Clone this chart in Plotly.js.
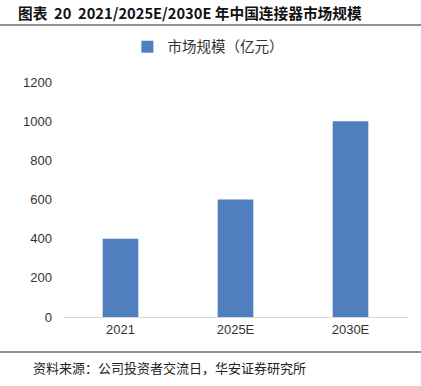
<!DOCTYPE html>
<html><head><meta charset="utf-8">
<script src="https://cdn.plot.ly/plotly-3.0.1.min.js"></script>
<style>html,body{margin:0;padding:0;background:#fff;}#chart{width:421px;height:386px;}</style>
</head><body><div id="chart"></div>
<script>
const categories = ["2021", "2025E", "2030E"];
const marketSize = [400, 600, 1000];
const seriesName = "市场规模（亿元）";
const yTicks = [0, 200, 400, 600, 800, 1000, 1200];
const chartTitle = "图表  20  2021/2025E/2030E 年中国连接器市场规模";
const sourceText = "资料来源：公司投资者交流日，华安证券研究所";

const trace = {
  type: "bar", x: categories, y: marketSize, name: seriesName,
  marker: {color: "#4f7fbe"}, showlegend: true
};
const layout = {
  width: 421, height: 386,
  margin: {l: 63, r: 13, t: 82, b: 69},
  paper_bgcolor: "#fff", plot_bgcolor: "#fff",
  font: {family: "Liberation Sans, Arial, sans-serif", color: "#333", size: 13},
  bargap: 0.69,
  xaxis: {type: "category", showline: true, linecolor: "#d9d9d9", linewidth: 1,
    ticks: "", showgrid: false, tickfont: {size: 13, color: "#333"}},
  yaxis: {range: [0, 1200], tickvals: yTicks, showgrid: false, showline: false,
    zeroline: false, ticks: "", ticklabelstandoff: 10, tickfont: {size: 13, color: "#333"}},
  showlegend: true,
  legend: {orientation: "h", x: 0.42, xanchor: "center", y: 1.15, yanchor: "middle",
    itemwidth: 30,
    font: {family: "Noto Sans CJK SC, sans-serif", size: 14.5, color: "#333"}},
  annotations: [
    {text: "<b>" + chartTitle + "</b>", xref: "paper", yref: "paper", x: -63/345, xshift: 16, xanchor: "left",
     y: 1 + (82-13)/235, yanchor: "middle", showarrow: false,
     font: {family: "Noto Sans CJK SC, sans-serif", size: 14.7, color: "#111"}},
    {text: sourceText, xref: "paper", yref: "paper", x: -63/345, xshift: 31, xanchor: "left",
     y: -(367-317)/235, yanchor: "middle", showarrow: false,
     font: {family: "Noto Sans CJK SC, sans-serif", size: 13, color: "#222"}}
  ],
  shapes: [
    {type: "line", xref: "paper", yref: "paper", x0: -63/345, x1: 1 + 13/345,
     y0: 1 + (82-25)/235, y1: 1 + (82-25)/235, line: {color: "#222", width: 1}},
    {type: "line", xref: "paper", yref: "paper", x0: -63/345, x1: 1 + 13/345,
     y0: -(352-317)/235, y1: -(352-317)/235, line: {color: "#222", width: 1}}
  ]
};
Plotly.newPlot("chart", [trace], layout, {displayModeBar: false, staticPlot: true});
</script></body></html>
